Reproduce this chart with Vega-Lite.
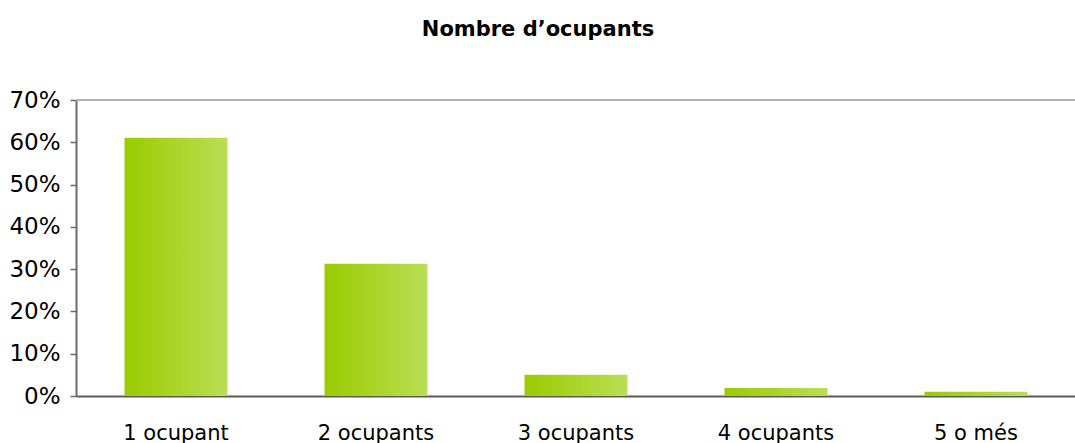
{
  "$schema": "https://vega.github.io/schema/vega-lite/v6.json",
  "width": 1000,
  "height": 296,
  "autosize": {"type": "none"},
  "padding": {"left": 76, "top": 100, "right": 0, "bottom": 47},
  "background": "white",
  "view": {"stroke": null},
  "title": {
    "text": "Nombre d’ocupants",
    "font": "DejaVu Sans",
    "fontSize": 21,
    "fontWeight": "bold",
    "color": "#000000",
    "anchor": "middle",
    "dx": -38,
    "baseline": "bottom",
    "offset": 28
  },
  "data": {
    "values": [
      {"categoria": "1 ocupant", "percentatge": 0.611},
      {"categoria": "2 ocupants", "percentatge": 0.313},
      {"categoria": "3 ocupants", "percentatge": 0.05},
      {"categoria": "4 ocupants", "percentatge": 0.019},
      {"categoria": "5 o més", "percentatge": 0.01}
    ]
  },
  "layer": [
    {
      "mark": {"type": "rule", "color": "#b4b4b4", "strokeWidth": 2},
      "encoding": {"y": {"datum": 0.7, "type": "quantitative"}}
    },
    {
      "mark": {
        "type": "bar",
        "color": {
          "gradient": "linear",
          "x1": 0, "y1": 0, "x2": 1, "y2": 0,
          "stops": [
            {"offset": 0, "color": "#99cc00"},
            {"offset": 1, "color": "#bbde55"}
          ]
        }
      },
      "encoding": {
        "x": {
          "field": "categoria",
          "type": "nominal",
          "sort": null,
          "scale": {"paddingInner": 0.485, "paddingOuter": 0.2425},
          "axis": {
            "title": null,
            "labelAngle": 0,
            "ticks": false,
            "labelPadding": 26,
            "labelFont": "DejaVu Sans",
            "labelFontSize": 21,
            "labelColor": "#000000",
            "domainColor": "#5a5a5a",
            "domainWidth": 2,
            "grid": false
          }
        },
        "y": {
          "field": "percentatge",
          "type": "quantitative",
          "scale": {"domain": [0, 0.7], "nice": false},
          "axis": {
            "title": null,
            "format": ".0%",
            "values": [0, 0.1, 0.2, 0.3, 0.4, 0.5, 0.6, 0.7],
            "grid": false,
            "tickSize": 6,
            "tickColor": "#6b6b6b",
            "tickWidth": 1.5,
            "domainColor": "#6b6b6b",
            "domainWidth": 2,
            "labelPadding": 10,
            "labelFont": "DejaVu Sans",
            "labelFontSize": 23,
            "labelColor": "#000000"
          }
        }
      }
    }
  ]
}
